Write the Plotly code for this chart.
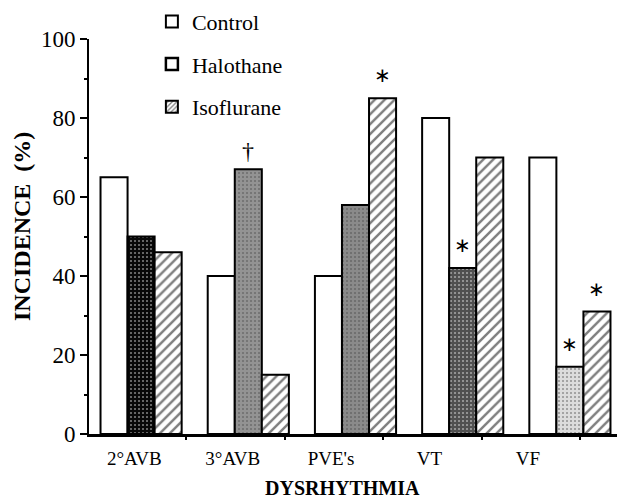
import numpy as np
import plotly.graph_objects as go

# ---------------- data ----------------
categories = ["2°AVB", "3°AVB", "PVE's", "VT", "VF"]
control = [65, 40, 40, 80, 70]
halothane = [50, 67, 58, 42, 17]
isoflurane = [46, 15, 85, 70, 31]
series_names = ["Control", "Halothane", "Isoflurane"]
y_tick_vals = [0, 20, 40, 60, 80, 100]
# significance marks: (series index, category index, symbol)
sig_marks = [(1, 1, "†"), (2, 2, "∗"), (1, 3, "∗"), (1, 4, "∗"), (2, 4, "∗")]

# ---------------- style ----------------
FONT = "Liberation Serif"
BARGAP = 0.243
BAR_W = (1 - BARGAP) / 3
hal_bg = ["#080808", "#939393", "#8a8a8a", "#505050", "#dcdcdc"]
hal_fg = ["#3a3a3a", "#2a2a2a", "#2a2a2a", "#9a9a9a", "#666666"]

x = np.arange(len(categories))
values = [control, halothane, isoflurane]

fig = go.Figure()

fig.add_trace(go.Bar(
    x=x, y=control, name=series_names[0], showlegend=False,
    marker=dict(color="white", line=dict(color="black", width=2)),
))
fig.add_trace(go.Bar(
    x=x, y=halothane, name=series_names[1], showlegend=False,
    marker=dict(color=hal_bg, line=dict(color="black", width=2),
                pattern=dict(shape=".", fillmode="overlay", fgcolor=hal_fg,
                             size=4, solidity=0.2)),
))
fig.add_trace(go.Bar(
    x=x, y=isoflurane, name=series_names[2], showlegend=False,
    marker=dict(color="white", line=dict(color="black", width=2),
                pattern=dict(shape="/", fgcolor="black", bgcolor="white",
                             size=7, solidity=0.35)),
))

# legend entries (legend-only, on a separate overlay axis)
legend_markers = [
    dict(color="white", line=dict(color="black", width=2)),
    dict(color="white", line=dict(color="black", width=2.5)),
    dict(color="white", line=dict(color="black", width=2),
         pattern=dict(shape="/", fgcolor="black", bgcolor="white", size=4, solidity=0.4)),
]
for name, mk in zip(series_names, legend_markers):
    fig.add_trace(go.Bar(x=[None], y=[None], name=name, marker=mk,
                         xaxis="x2", yaxis="y", legendgroup=name))

# significance annotations
for s_idx, c_idx, sym in sig_marks:
    fig.add_annotation(
        x=x[c_idx] + (s_idx - 1) * BAR_W, y=values[s_idx][c_idx],
        xref="x", yref="y", text=sym, showarrow=False,
        yanchor="bottom", yshift=3 if sym == "†" else 10,
        font=dict(family=FONT, size=24 if sym == "†" else 20, color="black"),
    )

# axis titles
fig.add_annotation(
    x=0.4747, y=-0.137, xref="paper", yref="paper", text="<b>DYSRHYTHMIA</b>",
    showarrow=False, xanchor="center", yanchor="middle",
    font=dict(family=FONT, size=20, color="black"),
)
fig.add_annotation(
    x=-0.1257, y=0.524, xref="paper", yref="paper", text="<b>INCIDENCE  (%)</b>",
    showarrow=False, xanchor="center", yanchor="middle", textangle=-90,
    font=dict(family=FONT, size=24, color="black"),
)

# the page body adds an 8px offset; the figure is sized to fill the rest
fig.update_layout(
    width=617, height=494,
    margin=dict(l=81, r=3, t=31, b=68, autoexpand=False),
    paper_bgcolor="white", plot_bgcolor="white",
    barmode="group", bargap=BARGAP, bargroupgap=0,
    font=dict(family=FONT, color="black"),
    legend=dict(
        x=0.118, y=1.097, xref="paper", yref="paper",
        xanchor="left", yanchor="top",
        font=dict(family=FONT, size=22, color="black"),
        tracegroupgap=11, bgcolor="rgba(0,0,0,0)",
    ),
    xaxis=dict(
        range=[-0.486, len(categories) - 0.514],
        showline=True, linecolor="black", linewidth=2.5,
        showticklabels=False, ticks="", showgrid=False, zeroline=False,
        fixedrange=True,
    ),
    xaxis2=dict(
        overlaying="x", anchor="y", side="bottom",
        range=[0.01, 5.427],
        tickmode="array", tickvals=list(range(1, len(categories) + 1)),
        ticks="outside", ticklen=5, tickwidth=1.5, tickcolor="black",
        showticklabels=False, showline=False, showgrid=False, zeroline=False,
    ),
    xaxis3=dict(
        overlaying="x", anchor="y", side="bottom",
        range=[0.01, 5.427],
        tickmode="array", tickvals=[i + 0.47 for i in range(len(categories))],
        ticktext=categories, tickangle=0,
        ticks="outside", ticklen=7, tickcolor="rgba(0,0,0,0)",
        tickfont=dict(family=FONT, size=19, color="black"),
        showline=False, showgrid=False, zeroline=False,
    ),
    yaxis=dict(
        range=[0, 100],
        tickmode="array", tickvals=y_tick_vals,
        ticks="outside", ticklen=7, tickwidth=2, tickcolor="black",
        minor=dict(dtick=10, tick0=0, ticks="outside", ticklen=3,
                   tickwidth=1.5, tickcolor="black", showgrid=False),
        showline=True, linecolor="black", linewidth=2,
        showgrid=False, zeroline=False,
        tickfont=dict(family=FONT, size=23, color="black"),
    ),
)

# dummy trace so xaxis3 is drawn
fig.add_trace(go.Bar(x=[None], y=[None], xaxis="x3", yaxis="y", showlegend=False,
                     hoverinfo="skip"))

fig.write_html("out.html")
